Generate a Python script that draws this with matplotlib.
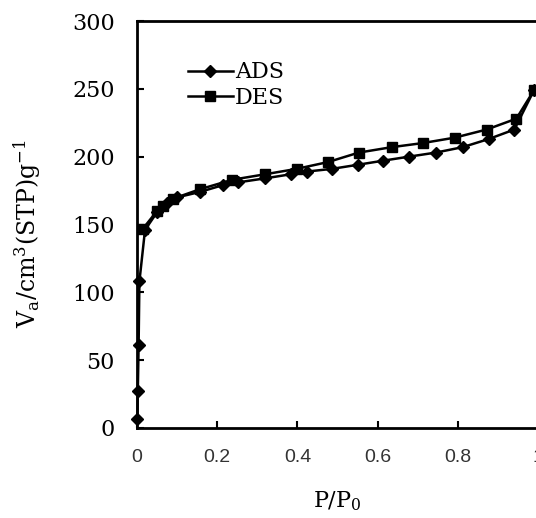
import matplotlib.pyplot as plt

# adsorption / desorption isotherm
ads_p = [0.001, 0.002, 0.004, 0.006, 0.02, 0.05, 0.075, 0.1, 0.157, 0.214, 0.251,
         0.319, 0.383, 0.423, 0.486, 0.55, 0.613, 0.678, 0.745, 0.812, 0.877, 0.941, 0.99]
ads_v = [7, 27, 61, 108, 146, 159, 166, 170, 174, 179, 181,
         184, 187, 189, 191, 194, 197, 200, 203, 207, 213, 220, 249]

des_p = [0.99, 0.946, 0.872, 0.792, 0.712, 0.635, 0.553, 0.476, 0.398, 0.319,
         0.238, 0.157, 0.09, 0.065, 0.05, 0.015]
des_v = [249, 228, 220, 214, 210, 207, 203, 196, 191, 187,
         183, 176, 169, 164, 160, 147]

xticks = [0, 0.2, 0.4, 0.6, 0.8, 1.0]
xticklabels = ['0', '0.2', '0.4', '0.6', '0.8', '1']
yticks = [0, 50, 100, 150, 200, 250, 300]

plt.rcParams['font.family'] = 'DejaVu Serif'
plt.rcParams['mathtext.fontset'] = 'dejavuserif'

fig = plt.figure(figsize=(5.36, 5.18), dpi=100)
ax = fig.add_axes([137 / 536, 90 / 518, 401 / 536, 407 / 518])

ax.plot(ads_p, ads_v, color='black', lw=1.8, marker='D', ms=6.5, label='ADS', clip_on=False, zorder=3)
ax.plot(des_p, des_v, color='black', lw=1.8, marker='s', ms=7, label='DES', clip_on=False, zorder=3)

ax.set_xlim(0, 1)
ax.set_ylim(0, 300)
ax.set_xticks(xticks)
ax.set_xticklabels(xticklabels, family='Liberation Sans', fontsize=14, color='#333333')
ax.set_yticks(yticks)
ax.tick_params(axis='both', direction='in', length=5, width=1.5)
ax.tick_params(axis='y', labelsize=16, pad=16)
ax.tick_params(axis='x', pad=15)
for s in ax.spines.values():
    s.set_linewidth(2)

ax.set_xlabel('P/P$_0$', fontsize=16, labelpad=17)
ax.set_ylabel(r'V$_\mathrm{a}$/cm$^3$(STP)g$^{\mathrm{-1}}$', fontsize=17, labelpad=20)
ax.yaxis.set_label_coords(-0.235, 0.477)

ax.legend(loc='upper left', bbox_to_anchor=(0.1, 0.928), frameon=False, fontsize=16,
          handlelength=2.0, handletextpad=0.1, labelspacing=0.15, borderpad=0)

plt.savefig('out.png', dpi=100)
